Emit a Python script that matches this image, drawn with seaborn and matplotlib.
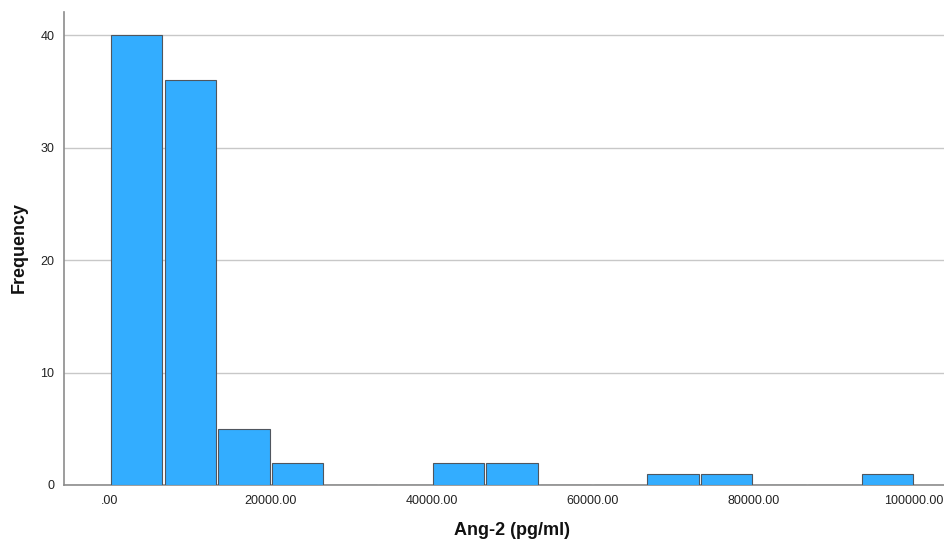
import numpy as np
import pandas as pd
import matplotlib
matplotlib.use("Agg")
import matplotlib.pyplot as plt
import seaborn as sns

# Ang-2 histogram: 15 equal bins from 0 to 100000 pg/ml
bin_width = 100000 / 15
bin_starts = [i * bin_width for i in range(15)]
counts = [40, 36, 5, 2, 0, 0, 2, 2, 0, 0, 1, 1, 0, 0, 1]
x_ticks = [0, 20000, 40000, 60000, 80000, 100000]
x_tick_labels = [".00", "20000.00", "40000.00", "60000.00", "80000.00", "100000.00"]
y_ticks = [0, 10, 20, 30, 40]

df = pd.DataFrame({
    "value": [s + bin_width / 2 for s in bin_starts],
    "count": counts,
})

sns.set_style("white")
plt.rcParams["font.family"] = ["Liberation Sans", "DejaVu Sans"]

fig = plt.figure(figsize=(9.44, 5.42), dpi=100)
ax = fig.add_axes([0.0678, 0.1052, 0.9322, 0.873])

sns.histplot(data=df, x="value", weights="count", bins=15, binrange=(0, 100000),
             ax=ax, color="#33adff", alpha=1.0, edgecolor="#50565e",
             linewidth=0.8, shrink=0.96, zorder=3)

ax.set_xlim(-5700, 103700)
ax.set_ylim(0, 42.1)
ax.set_xticks(x_ticks)
ax.set_xticklabels(x_tick_labels, fontsize=9, color="#222222")
ax.set_yticks(y_ticks)
ax.set_yticklabels([str(v) for v in y_ticks], fontsize=9, color="#222222")
ax.tick_params(axis="x", length=0, pad=7)
ax.tick_params(axis="y", length=0, pad=7)

ax.yaxis.grid(True, color="#c8c8c8", linewidth=1.0, zorder=0)
ax.xaxis.grid(False)
ax.set_axisbelow(True)

for side in ["top", "right"]:
    ax.spines[side].set_visible(False)
for side in ["left", "bottom"]:
    ax.spines[side].set_color("#8c8c8c")
    ax.spines[side].set_linewidth(1.2)

ax.set_xlabel("Ang-2 (pg/ml)", fontsize=13, fontweight="bold", color="#111111")
ax.set_ylabel("Frequency", fontsize=13, fontweight="bold", color="#111111")
ax.xaxis.set_label_coords(0.509, -0.097)
ax.xaxis.label.set_va("center")
ax.yaxis.set_label_coords(-0.051, 0.502)
ax.yaxis.label.set_va("center")

fig.savefig("out.png", dpi=100)
